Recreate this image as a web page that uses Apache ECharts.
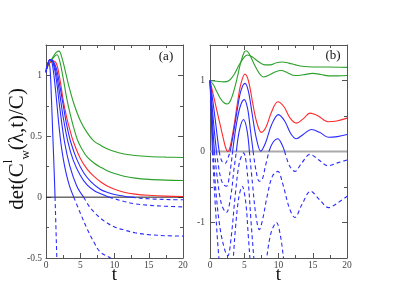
<!DOCTYPE html>
<html><head><meta charset="utf-8">
<script src="https://cdn.jsdelivr.net/npm/echarts@6/dist/echarts.min.js"></script>
<style>html,body{margin:0;padding:0;background:#fff}#c{width:393px;height:304px}</style>
</head><body><div id="c"></div>
<script>
// ---------- data: panel (a) ----------
const xTicksA = [0, 5, 10, 15, 20];
const yTicksA = [-0.5, 0, 0.5, 1];
const aGreen1 = [[0,1.05],[0.5,1.1],[1,1.15],[1.5,1.19],[1.9,1.2],[2.3,1.15],[2.8,1.04],[3.3,0.92],[4,0.78],[5,0.63],[6,0.53],[7,0.46],[8,0.425],[9,0.395],[10,0.375],[11.4,0.355],[13,0.342],[15,0.334],[17.5,0.329],[20,0.326]];
const aGreen2 = [[0,1.05],[0.5,1.1],[1,1.14],[1.6,1.17],[2,1.12],[2.5,0.98],[3,0.82],[3.5,0.69],[4,0.58],[4.6,0.47],[5.2,0.4],[6,0.33],[7,0.28],[8,0.245],[9,0.215],[10,0.195],[11.4,0.172],[13,0.156],[15,0.146],[17.5,0.14],[20,0.137]];
const aRed = [[0,1.05],[0.5,1.1],[1,1.12],[1.5,1.1],[2,0.98],[2.5,0.8],[3,0.66],[3.5,0.55],[4,0.455],[5,0.32],[6,0.23],[7,0.17],[8,0.125],[9,0.09],[10,0.065],[11.4,0.04],[13,0.025],[15,0.015],[17.5,0.008],[20,0.005]];
const aBlue1 = [[0,1.02],[0.2,1.08],[0.4,1.1],[0.6,1.05],[0.8,0.8],[1.0,0.5],[1.2,0.2],[1.32,0],[1.45,-0.25],[1.58,-0.5],[1.7,-0.75]];
const aBlue2 = [[0,1.03],[0.3,1.1],[0.6,1.13],[0.9,1.1],[1.2,0.98],[1.5,0.82],[1.8,0.64],[2.15,0.455],[2.5,0.32],[3,0.18],[3.5,0.08],[4.05,0],[5,-0.13],[6,-0.26],[7,-0.37],[7.9,-0.45],[9.4,-0.5],[11,-0.56]];
const aBlue3 = [[0,1.03],[0.6,1.13],[1,1.11],[1.5,0.97],[2,0.74],[2.7,0.455],[3.5,0.25],[4.5,0.09],[5.5,0],[6.5,-0.09],[7.9,-0.17],[9,-0.215],[10,-0.245],[11.4,-0.27],[13,-0.293],[15,-0.308],[17.5,-0.317],[20,-0.32]];
const aBlue4 = [[0,1.03],[0.6,1.13],[1,1.12],[1.5,1.02],[2,0.85],[2.5,0.66],[3.2,0.455],[4,0.3],[5,0.18],[6,0.1],[7,0.055],[7.9,0.03],[9.2,0],[10,-0.013],[11.4,-0.036],[13,-0.055],[15,-0.067],[17.5,-0.075],[20,-0.08]];
const aBlue5 = [[0,1.03],[0.6,1.13],[1,1.12],[1.5,1.06],[2,0.92],[2.5,0.76],[3,0.6],[3.6,0.455],[4.5,0.31],[5.5,0.2],[6.5,0.13],[7.9,0.065],[9,0.038],[10,0.022],[11.4,0.008],[12.5,0],[14,-0.01],[16,-0.016],[18,-0.02],[20,-0.022]];

// ---------- data: panel (b) ----------
const xTicksB = [0, 5, 10, 15, 20];
const yTicksB = [-1, 0, 1];
const bGreenDeep = [[0,1],[0.5,0.94],[1,0.84],[1.5,0.75],[2,0.69],[2.5,0.67],[3,0.72],[3.5,0.86],[4,1.05],[4.5,1.26],[5,1.4],[5.3,1.42],[5.7,1.38],[6.5,1.22],[7.2,1.1],[7.8,1.05],[8.7,1.08],[9.5,1.12],[10.4,1.14],[11.3,1.11],[12.4,1.07],[13.6,1.08],[15,1.1],[16.2,1.085],[17.3,1.065],[18.7,1.065],[20,1.07]];
const bGreenShallow = [[0,1],[1,0.99],[2,0.98],[2.8,1.0],[3.5,1.08],[4.2,1.21],[5,1.33],[5.5,1.36],[6.2,1.33],[7,1.27],[8,1.22],[8.8,1.22],[9.7,1.25],[10.5,1.26],[11.5,1.245],[12.5,1.22],[13.5,1.2],[15,1.19],[17,1.19],[20,1.185]];
const bRed = [[0,1],[0.5,0.79],[1,0.58],[1.5,0.37],[2,0.16],[2.3,0.05],[2.6,0],[2.9,0.05],[3.5,0.36],[4,0.68],[4.5,0.95],[5.1,1.09],[5.6,1.0],[6.2,0.7],[6.8,0.42],[7.5,0.27],[8.2,0.35],[9,0.56],[9.9,0.7],[10.8,0.63],[11.7,0.47],[12.6,0.4],[13.6,0.46],[14.6,0.54],[15.8,0.5],[17.2,0.42],[18.5,0.43],[20,0.47]];
const bBlue1 = [[0,1],[0.4,0.72],[0.8,0.42],[1.2,0.1],[1.35,0],[1.7,-0.13],[2.2,-0.17],[2.7,-0.07],[2.95,0],[3.5,0.3],[4,0.6],[4.5,0.85],[5.1,0.96],[5.6,0.85],[6.2,0.5],[6.8,0.17],[7.4,0.005],[8.1,0.12],[9,0.38],[10,0.52],[10.9,0.43],[11.8,0.25],[12.6,0.18],[13.6,0.24],[14.8,0.31],[16,0.27],[17.3,0.2],[18.6,0.21],[20,0.24]];
const bBlue2 = [[0,1],[0.3,0.65],[0.6,0.32],[0.95,0],[1.4,-0.3],[1.9,-0.46],[2.4,-0.49],[2.9,-0.3],[3.3,0],[3.8,0.35],[4.4,0.63],[5.0,0.73],[5.5,0.6],[5.9,0.3],[6.3,0],[6.7,-0.26],[7.2,-0.42],[7.6,-0.4],[8.1,-0.2],[8.6,0],[9.2,0.13],[9.9,0.18],[10.5,0.1],[10.9,0],[11.6,-0.2],[12.4,-0.28],[13.4,-0.16],[14.6,-0.04],[15.9,-0.12],[17.2,-0.2],[18.6,-0.16],[20,-0.12]];
const bBlue3 = [[0,1],[0.25,0.6],[0.5,0.2],[0.65,0],[1.1,-0.4],[1.7,-0.75],[2.4,-0.86],[3,-0.65],[3.5,-0.25],[3.85,0],[4.3,0.3],[4.9,0.45],[5.4,0.3],[5.75,0],[6.2,-0.45],[6.7,-0.9],[7.2,-1.1],[7.7,-0.95],[8.3,-0.65],[9.1,-0.35],[9.9,-0.28],[10.6,-0.45],[11.6,-0.8],[12.4,-0.93],[13.4,-0.75],[14.7,-0.56],[16,-0.68],[17.3,-0.79],[18.7,-0.72],[20,-0.63]];
const bBlue4 = [[0,1],[0.2,0.6],[0.45,0],[0.9,-0.6],[1.5,-1.1],[2.2,-1.4],[2.6,-1.47],[3.1,-1.2],[3.7,-0.6],[4.3,-0.15],[4.9,-0.02],[5.5,-0.35],[6,-1.0],[6.4,-1.5],[6.8,-1.9],[7.4,-2.1],[8.2,-1.55],[8.9,-1.15],[9.7,-1.0],[10.3,-1.2],[10.8,-1.55],[11.5,-2.0]];
const bBlue5 = [[0,1],[0.15,0.6],[0.35,0],[0.8,-0.8],[1.3,-1.5],[1.8,-1.9],[2.6,-2.1],[3.3,-1.6],[3.7,-1.1],[4.2,-0.65],[4.7,-0.49],[5.2,-0.7],[5.6,-1.2],[5.9,-1.6],[6.3,-2.1]];

const GREEN = '#2ca02c', RED = '#ff2a2a', BLUE = '#2b2bff';
const SERIF = "Liberation Serif";

function solidPart(pts){ return pts.map(p => [p[0], p[1] >= 0 ? p[1] : null]); }
function dashedPart(pts){ return pts.map(p => [p[0], p[1] <= 0 ? p[1] : null]); }

const series = [];
function addLine(pts, color, xi, yi){
  series.push({type:'line', xAxisIndex:xi, yAxisIndex:yi, data:pts, showSymbol:false, symbol:'none', smooth:0.35, clip:true,
    lineStyle:{color, width:1.1}, silent:true});
}
function addSplit(pts, color, xi, yi){
  series.push({type:'line', xAxisIndex:xi, yAxisIndex:yi, data:solidPart(pts), showSymbol:false, symbol:'none', smooth:0.35, clip:true, connectNulls:false,
    lineStyle:{color, width:1.1}, silent:true});
  series.push({type:'line', xAxisIndex:xi, yAxisIndex:yi, data:dashedPart(pts), showSymbol:false, symbol:'none', smooth:0.35, clip:true, connectNulls:false,
    lineStyle:{color, width:1.1, type:[4,3]}, silent:true});
}
// zero lines
series.push({type:'line', xAxisIndex:0, yAxisIndex:0, data:[[0,0],[20,0]], showSymbol:false, symbol:'none', lineStyle:{color:'#222', width:1}, silent:true});
series.push({type:'line', xAxisIndex:2, yAxisIndex:2, data:[[0,0],[20,0]], showSymbol:false, symbol:'none', lineStyle:{color:'#aaaaaa', width:2}, silent:true});

[aGreen1, aGreen2].forEach(d => addLine(d, GREEN, 0, 0));
addLine(aRed, RED, 0, 0);
[aBlue1, aBlue2, aBlue3, aBlue4, aBlue5].forEach(d => addSplit(d, BLUE, 0, 0));

[bGreenDeep, bGreenShallow].forEach(d => addLine(d, GREEN, 2, 2));
addLine(bRed, RED, 2, 2);
[bBlue1, bBlue2, bBlue3, bBlue4, bBlue5].forEach(d => addSplit(d, BLUE, 2, 2));

const AX = '#555';
const LBL = '#444';
function xAx(grid, pos, labels, ticks){
  return {type:'value', gridIndex:grid, position:pos, min:0, max:20, interval:5,
    axisLine:{show:true, onZero:false, lineStyle:{color:AX, width:1}},
    axisTick:{show:true, inside:true, length:5, lineStyle:{color:AX}},
    minorTick:{show:true, splitNumber:2, length:3, lineStyle:{color:AX}},
    splitLine:{show:false},
    axisLabel:{show:labels, fontFamily:SERIF, fontSize:9.5, color:LBL, margin:2, customValues: ticks},
    name: labels ? 't' : '', nameLocation:'middle', nameGap:8, nameMoveOverlap:false,
    nameTextStyle:{fontFamily:SERIF, fontSize:19, color:'#111'}};
}
function yAxA(pos, labels){
  return {type:'value', gridIndex:0, position:pos, min:-0.5, max:1.25, interval:0.5,
    axisLine:{show:true, onZero:false, lineStyle:{color:AX, width:1}},
    axisTick:{show:true, inside:true, length:5, lineStyle:{color:AX}, customValues: yTicksA},
    minorTick:{show:true, splitNumber:2, length:3, lineStyle:{color:AX}},
    splitLine:{show:false},
    axisLabel:{show:labels, fontFamily:SERIF, fontSize:9.5, color:LBL, margin:4, customValues: yTicksA}};
}
function yAxB(pos, labels){
  return {type:'value', gridIndex:1, position:pos, min:-1.5, max:1.5, interval:0.5,
    axisLine:{show:true, onZero:false, lineStyle:{color:AX, width:1}},
    axisTick:{show:true, inside:true, length:5, lineStyle:{color:AX}, customValues: yTicksB},
    splitLine:{show:false},
    axisLabel:{show:labels, fontFamily:SERIF, fontSize:9.5, color:LBL, margin:5, customValues: yTicksB}};
}
function yAxBminor(pos){
  return {type:'value', gridIndex:1, position:pos, min:-1.5, max:1.5, interval:0.5,
    axisLine:{show:false, onZero:false},
    axisTick:{show:true, inside:true, length:3, lineStyle:{color:AX}, customValues:[-0.5, 0.5]},
    splitLine:{show:false}, axisLabel:{show:false}};
}

const option = {
  animation:false,
  backgroundColor:'#fff',
  grid:[
    {left:46, top:45, width:137, height:213},
    {left:210, top:45, width:137, height:213}
  ],
  xAxis:[xAx(0,'bottom',true,xTicksA), xAx(0,'top',false,xTicksA), xAx(1,'bottom',true,xTicksB), xAx(1,'top',false,xTicksB)],
  yAxis:[yAxA('left',true), yAxA('right',false), yAxB('left',true), yAxB('right',false), yAxBminor('left'), yAxBminor('right')],
  series,
  graphic:[
    {type:'text', x:166, y:57, style:{text:'(a)', font:"13px 'Liberation Serif'", fill:'#111', align:'center', verticalAlign:'middle'}},
    {type:'text', x:333, y:56, style:{text:'(b)', font:"13px 'Liberation Serif'", fill:'#111', align:'center', verticalAlign:'middle'}},
    {type:'text', x:17, y:149, rotation:Math.PI/2,
      style:{text:'{m|det(C}{sup|l}{sub|w}{m|(λ,t)/C)}', align:'center', verticalAlign:'middle', fill:'#111',
        rich:{
          m:{fontFamily:SERIF, fontSize:21, lineHeight:30, verticalAlign:'middle'},
          sup:{fontFamily:SERIF, fontSize:13, lineHeight:30, verticalAlign:'top'},
          sub:{fontFamily:SERIF, fontSize:13, lineHeight:30, verticalAlign:'bottom'}
        }}}
  ]
};
const chart = echarts.init(document.getElementById('c'), null, {renderer:'canvas'});
chart.setOption(option);
</script>
</body></html>
